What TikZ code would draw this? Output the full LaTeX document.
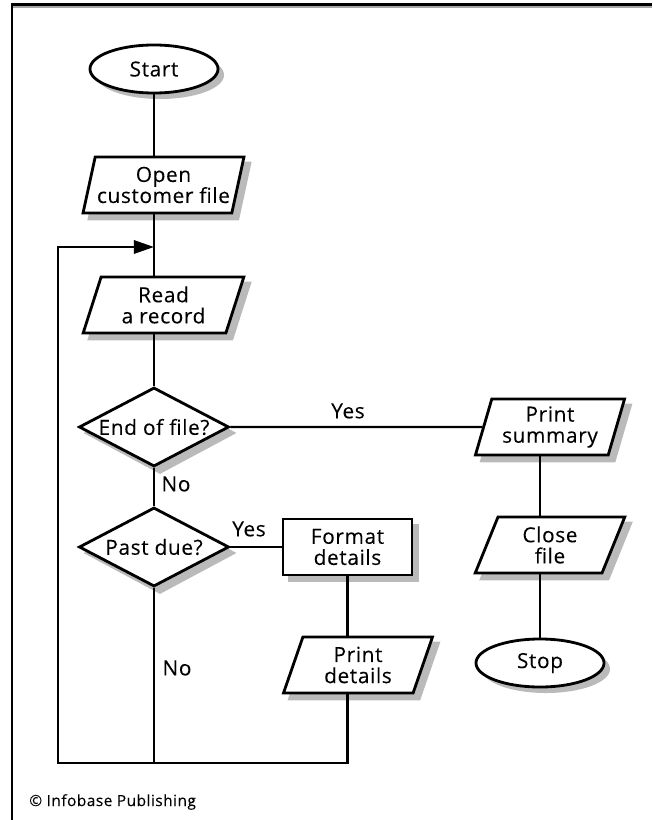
\documentclass[tikz,border=0pt]{standalone}
\usepackage{fontspec}
\setmainfont[LetterSpace=3, FakeBold=0.1]{Open Sans}
\usetikzlibrary{shapes.geometric, arrows.meta, backgrounds}

\begin{document}
\begin{tikzpicture}[x=0.025cm, y=-0.025cm,
  every node/.style={font=\fontsize{14.8}{15}\selectfont, align=center},
  box/.style={draw, line width=2pt, fill=white},
  term/.style={box, ellipse, minimum width=3.2cm, minimum height=1.2cm, inner sep=0pt},
  io/.style={box, trapezium, trapezium left angle=72, trapezium right angle=108,
    trapezium stretches=true, minimum height=1.4cm, inner sep=0pt},
  decide/.style={box, diamond, aspect=1.9, minimum width=3.75cm, minimum height=1.975cm, inner sep=0pt},
  proc/.style={box, rectangle, minimum width=3.225cm, minimum height=1.4cm, inner sep=0pt},
  conn/.style={line width=1.7pt},
  lbl/.style={inner sep=0pt},
  shd/.style={shift={(6,6)}},
  shadow/.style={fill=black, fill opacity=0.27}
]
\useasboundingbox (0,0) rectangle (652,820);

% Frame
\draw[black, draw opacity=0.35, line width=1pt] (13,7) -- (652,7);
\draw[line width=1.5pt] (12,820) -- (12,4.5) -- (652,4.5);

% Shapes
\node[term] (start) at (154,69) {Start};
\node[io, minimum width=4.025cm] (open) at (163.5,185) {Open\\customer file};
\node[io, minimum width=4.025cm] (read) at (163.5,305) {Read\\a record};
\node[decide] (eof) at (154,427) {End of file?};
\node[decide] (due) at (154,547) {Past due?};
\node[proc] (fmt) at (347.5,547) {Format\\details};
\node[io, minimum width=3.75cm] (pdet) at (358,665) {Print\\details};
\node[io, minimum width=3.75cm] (psum) at (550,427) {Print\\summary};
\node[io, minimum width=3.75cm] (close) at (550,545) {Close\\file};
\node[term] (stop) at (540,663) {Stop};

% Shadows
\begin{scope}[on background layer]
\foreach \n in {start, stop}
  \path[shadow] ([shd]\n.center) ellipse [x radius=1.6cm, y radius=0.6cm];
\foreach \n in {open, read, pdet, psum, close}
  \path[shadow] ([shd]\n.top left corner) -- ([shd]\n.top right corner) -- ([shd]\n.bottom right corner) -- ([shd]\n.bottom left corner) -- cycle;
\foreach \n in {eof, due}
  \path[shadow] ([shd]\n.north) -- ([shd]\n.east) -- ([shd]\n.south) -- ([shd]\n.west) -- cycle;
\path[shadow] ([shd]fmt.north west) rectangle ([shd]fmt.south east);
\end{scope}

% Loop points
\coordinate (loopin) at (154,247);
\coordinate (loopbl) at (58,763);

% Connectors
\draw[conn] (start) -- (start |- open.north);
\draw[conn] (start |- open.south) -- (start |- read.north);
\draw[conn] (start |- read.south) -- (eof);
\draw[conn] (eof) -- (due);
\draw[conn] (eof) -- (psum);
\draw[conn] (stop |- psum.south) -- (stop |- close.north);
\draw[conn] (stop |- close.south) -- (stop);
\draw[conn] (due) -- (fmt);
\draw[conn] (fmt) -- (fmt |- pdet.north);
\draw[conn] (due) -- (due |- loopbl);

% Back loop
\draw[conn, -{Triangle[length=0.5cm, width=0.33cm]}] (fmt |- pdet.south) -- (fmt |- loopbl) -- (loopbl) -- (loopbl |- loopin) -- (loopin);

% Labels
\node[lbl] (yes1) at (348,411) {Yes};
\node[lbl] (no1) at (176,484) {No};
\node[lbl] (yes2) at (249,529) {Yes};
\node[lbl] (no2) at (177,668) {No};
\node[lbl, anchor=west, font=\fontsize{11}{13}\selectfont] (credit) at (29,802) {© Infobase Publishing};
\end{tikzpicture}
\end{document}
